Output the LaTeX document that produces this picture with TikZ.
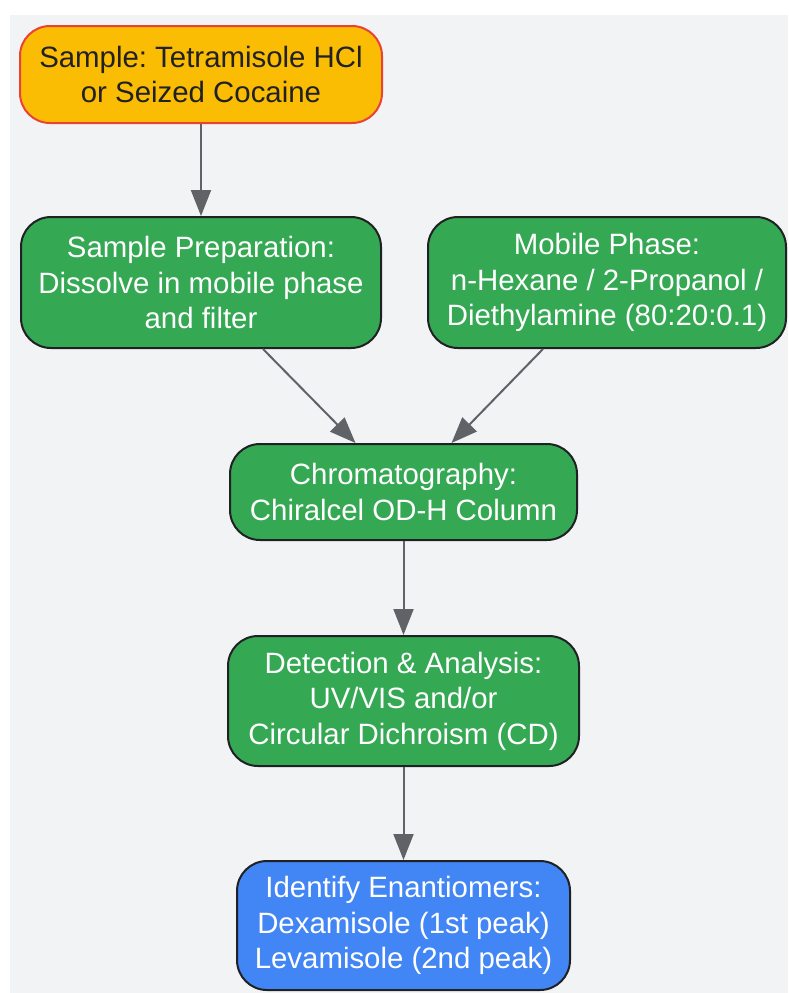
\documentclass[tikz,border=0pt]{standalone}
\usepackage{fontspec}
\setmainfont{Liberation Sans}
\usetikzlibrary{calc,arrows.meta}
\definecolor{bgc}{HTML}{F1F3F4}
\definecolor{yel}{HTML}{FBBC04}
\definecolor{redb}{HTML}{EA4335}
\definecolor{grn}{HTML}{34A853}
\definecolor{blu}{HTML}{4285F4}
\definecolor{dark}{HTML}{202124}
\definecolor{arr}{HTML}{5F6368}
\frenchspacing
\begin{document}
\begin{tikzpicture}[x=1pt,y=-1pt,
  box/.style={rounded corners=30pt, line width=2pt, draw=dark, align=center,
    font=\fontsize{29.4}{35.5}\selectfont\frenchspacing, text=white, inner sep=0pt},
  conn/.style={draw=arr, line width=2pt, -{Triangle[width=20pt,length=26pt]}}]
\useasboundingbox (0,0) rectangle (788,993);
\fill[bgc] (10,15) rectangle (788,993);
\node[box, fill=yel, draw=redb, text=dark, minimum width=362pt, minimum height=97pt] (sample) at (201,74.5) {Sample: Tetramisole HCl\\or Seized Cocaine};
\node[box, fill=grn, minimum width=360pt, minimum height=131pt] (prep) at (201,282.5) {Sample Preparation:\\Dissolve in mobile phase\\and filter};
\node[box, fill=grn, minimum width=358pt, minimum height=131pt] (mobile) at (607,282.5) {Mobile Phase:\\n-Hexane / 2-Propanol /\\Diethylamine (80:20:0.1)};
\node[box, fill=grn, minimum width=347pt, minimum height=96pt] (chrom) at (403.5,492) {Chromatography:\\Chiralcel OD-H Column};
\node[box, fill=grn, minimum width=351pt, minimum height=130pt] (detect) at (403.5,701) {Detection \& Analysis:\\UV/VIS and/or\\Circular Dichroism (CD)};
\node[box, fill=blu, minimum width=333pt, minimum height=129pt] (ident) at (403.5,925.5) {Identify Enantiomers:\\Dexamisole (1st peak)\\Levamisole (2nd peak)};
\draw[conn] (sample.south) -- (prep.north);
\draw[conn] ($(prep.south)+(62,0)$) -- ($(chrom.north)+(-48,0)$);
\draw[conn] ($(mobile.south)+(-64,0)$) -- ($(chrom.north)+(48,0)$);
\draw[conn] (chrom.south) -- (detect.north);
\draw[conn] (detect.south) -- (ident.north);
\end{tikzpicture}
\end{document}
